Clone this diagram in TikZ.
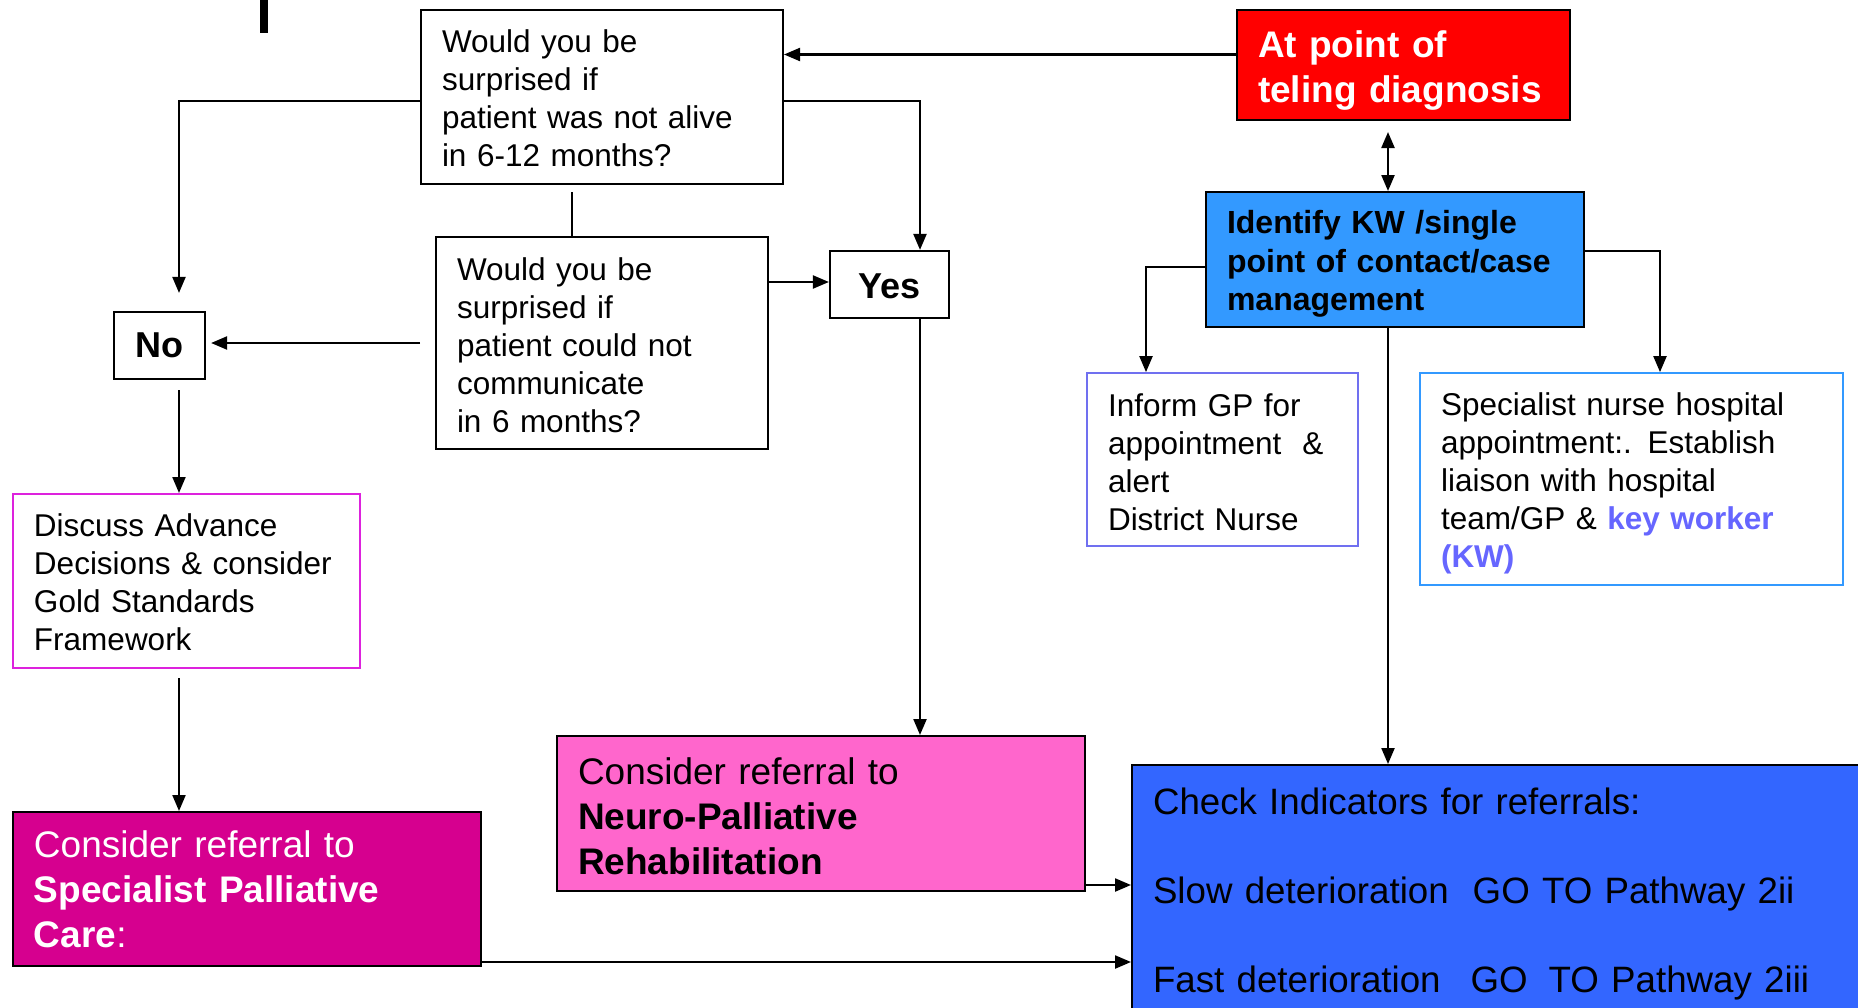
\documentclass[tikz,border=0pt]{standalone}
\usepackage{fontspec}
\setmainfont{Liberation Sans}
\usetikzlibrary{arrows.meta,calc}
\definecolor{magentaB}{HTML}{DD22DD}
\definecolor{informB}{HTML}{7070F0}
\definecolor{specB}{HTML}{3399FF}
\definecolor{kwblue}{HTML}{6666FF}
\definecolor{spcFill}{HTML}{D6008F}
\definecolor{neuroFill}{HTML}{FF66CC}
\definecolor{checkFill}{HTML}{3366FF}
\definecolor{identFill}{HTML}{3399FF}
\definecolor{redFill}{HTML}{FF0000}
\begin{document}
\begin{tikzpicture}[x=1pt,y=-1pt,
  box/.style={draw=black, line width=2pt, rectangle, inner ysep=0pt, inner xsep=21pt, align=left},
  small/.style={font=\fontsize{31.5}{38}\selectfont},
  big/.style={font=\fontsize{37}{45}\selectfont},
  yesno/.style={draw=black, line width=2.2pt, rectangle, inner sep=0pt, font=\fontsize{36}{43}\selectfont\bfseries},
  arr/.style={line width=2.2pt, -{Triangle[length=16pt,width=13pt]}},
  darr/.style={line width=2.2pt, {Triangle[length=16pt,width=13pt]}-{Triangle[length=16pt,width=13pt]}},
  conn/.style={line width=2.2pt}
]
\useasboundingbox (0,0) rectangle (1858,1007);

% fragment at top
\fill[black] (260,0) rectangle (268,33);

% nodes
\node[box, small, text height=26pt, text width=320pt, minimum height=174.5pt] (q1) at (602,96.75)
  {Would you be\\surprised if\\patient was not alive\\in 6-12 months?};
\node[box, small, text height=27pt, text width=290pt, minimum height=212pt] (q2) at (602,343)
  {Would you be\\surprised if\\patient could not\\communicate\\in 6 months?};
\node[yesno, text height=28pt, minimum width=119pt, minimum height=67pt] (yes) at (889.5,284.5) {Yes};
\node[yesno, minimum width=91pt, minimum height=67pt] (no) at (159.5,345.5) {No};
\node[box, small, text height=25pt, draw=magentaB, text width=305pt, minimum height=174pt] (disc) at (186.5,581)
  {Discuss Advance\\Decisions \& consider\\Gold Standards\\Framework};
\node[box, big, fill=spcFill, text=white, text width=426pt, minimum height=154pt] (spc) at (247,889)
  {Consider referral to\\\textbf{Specialist Palliative}\\\textbf{Care}:};
\node[box, big, text height=32pt, fill=neuroFill, text width=486pt, minimum height=155pt] (neuro) at (821,813.5)
  {Consider referral to\\\textbf{Neuro-Palliative}\\\textbf{Rehabilitation}};
\node[box, font=\fontsize{36.7}{89}\selectfont, text height=34pt, fill=checkFill, text width=701pt, minimum height=250pt] (check) at (1503.5,890)
  {Check Indicators for referrals:\\Slow deterioration\hspace{24pt}GO TO Pathway 2ii\\Fast deterioration\hspace{30pt}GO\hspace{21pt}TO Pathway 2iii};
\node[box, font=\fontsize{37}{45}\selectfont\bfseries, text height=39pt, fill=redFill, text=white, text width=291pt, minimum height=110.5pt] (red) at (1403.5,64.75)
  {At point of\\teling diagnosis};
\node[box, font=\fontsize{32}{38.5}\selectfont\bfseries, text height=32.5pt, fill=identFill, text width=336pt, minimum height=135pt] (ident) at (1395,259.5)
  {Identify KW /single\\point of contact/case\\management};
\node[box, small, text height=28pt, draw=informB, line width=1.8pt, text width=229pt, minimum height=173pt] (inform) at (1222.5,459.5)
  {Inform GP for\\appointment\ \ \&\\alert\\District Nurse};
\node[box, small, text height=32.5pt, draw=specB, line width=1.8pt, text width=381pt, minimum height=212pt] (spec) at (1631.5,479)
  {Specialist nurse hospital\\appointment:. Establish\\liaison with hospital\\team/GP \& {\bfseries\color{kwblue}key worker}\\{\bfseries\color{kwblue}(KW)}};

% connectors
% red -> q1
\coordinate (c1) at ($(red.west)+(0,-10.25)$);
\draw[arr] (c1) -- (c1 -| q1.east);
% red <-> ident
\coordinate (c16) at ($(ident.north)+(-7,0)$);
\draw[darr] ($(c16)+(0,-59)$) -- (c16);
% q1 -> no
\coordinate (c9) at ($(no.south)+(19.5,10)$);
\coordinate (noTop) at (c9 |- no.north);
\coordinate (c3) at ($(q1.west)+(0,4.25)$);
\draw[arr] (c3) -| ($(noTop)+(0,-18)$);
% q1 -> yes
\coordinate (c4) at ($(q1.east)+(0,4.25)$);
\draw[arr] (c4) -| ($(yes.north)+(30.5,0)$);
% q1 - q2
\coordinate (c5) at ($(q2.north)+(-30,0)$);
\draw[conn] ($(c5)+(0,-44)$) -- (c5);
% q2 -> no
\coordinate (c6) at ($(q2.west)+(-15,0)$);
\draw[arr] (c6) -- ($(c6 -| no.east)+(5,0)$);
% q2 -> yes
\coordinate (c7) at ($(q2.east)+(0,-61)$);
\draw[arr] (c7) -- (c7 -| yes.west);
% yes -> neuro
\coordinate (c8) at ($(yes.south)+(30.5,0)$);
\draw[arr] (c8) -- (c8 |- neuro.north);
% no -> disc
\draw[arr] (c9) -- (c9 |- disc.north);
% disc -> spc
\coordinate (c11) at ($(disc.south)+(-7.5,9)$);
\draw[arr] (c11) -- (c11 |- spc.north);
% spc -> check
\coordinate (c12) at ($(spc.east)+(0,73)$);
\draw[arr] (c12) -- (c12 -| check.west);
% neuro -> check
\coordinate (c13) at ($(neuro.east)+(0,71.5)$);
\draw[arr] (c13) -- (c13 -| check.west);
% ident -> inform
\draw[arr] ($(ident.west)+(0,7.5)$) -| ($(inform.north)+(-76.5,0)$);
% ident -> spec
\draw[arr] ($(ident.east)+(0,-8.5)$) -| ($(spec.north)+(28.5,0)$);
% ident -> check
\coordinate (c17) at ($(ident.south)+(-7,0)$);
\draw[arr] (c17) -- (c17 |- check.north);
\end{tikzpicture}
\end{document}
